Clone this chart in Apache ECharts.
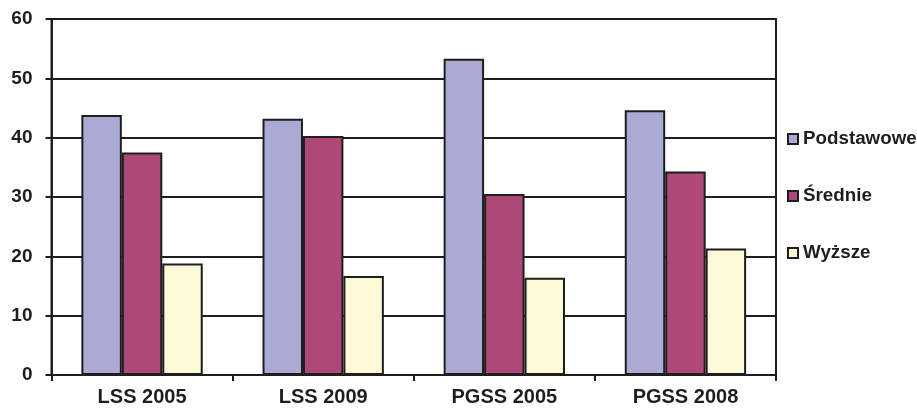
<!DOCTYPE html>
<html>
<head>
<meta charset="utf-8">
<script src="https://cdn.jsdelivr.net/npm/echarts@6/dist/echarts.min.js"></script>
<style>
  html, body { margin: 0; padding: 0; background: #fff; }
  #chart { width: 917px; height: 412px; }
</style>
</head>
<body>
<div id="chart"></div>
<script>
// Education levels across surveys (percent)
const categories = ['LSS 2005', 'LSS 2009', 'PGSS 2005', 'PGSS 2008'];
const podstawowe = [43.8, 43.2, 53.3, 44.6];
const srednie = [37.5, 40.3, 30.5, 34.3];
const wyzsze = [18.8, 16.7, 16.4, 21.3];
const seriesNames = ['Podstawowe', 'Średnie', 'Wyższe'];
const seriesColors = ['#aaaad4', '#ad4878', '#fdf9d6'];

const ink = '#1e1e1e';
const fontFamily = 'Liberation Sans, Arial, sans-serif';

const chart = echarts.init(document.getElementById('chart'), null, { renderer: 'canvas' });

const values = [podstawowe, srednie, wyzsze];
const series = values.map((data, i) => ({
  name: seriesNames[i],
  type: 'bar',
  data: data,
  barGap: '0%',
  barCategoryGap: '33%',
  itemStyle: { color: seriesColors[i], borderColor: ink, borderWidth: 2 }
}));

chart.setOption({
  animation: false,
  backgroundColor: '#ffffff',
  grid: {
    left: 51.5, right: 141, top: 19, bottom: 37,
    show: true, borderColor: ink, borderWidth: 2, backgroundColor: 'transparent'
  },
  legend: {
    orient: 'vertical',
    left: 787,
    top: 129,
    padding: 0,
    itemWidth: 10,
    itemHeight: 10,
    itemGap: 37,
    icon: 'rect',
    textStyle: { fontSize: 18.8, fontWeight: 'bold', color: ink, fontFamily: fontFamily, lineHeight: 20 },
    data: seriesNames
  },
  xAxis: {
    type: 'category',
    data: categories,
    axisLine: { lineStyle: { color: ink, width: 2 } },
    axisTick: { show: true, length: 6, lineStyle: { color: ink, width: 2 } },
    axisLabel: { fontSize: 20, fontWeight: 'bold', color: ink, fontFamily: fontFamily, margin: 12 },
    splitLine: { show: false }
  },
  yAxis: {
    type: 'value',
    min: 0, max: 60, interval: 10,
    axisLine: { show: true, lineStyle: { color: ink, width: 2 } },
    axisTick: { show: true, length: 6, lineStyle: { color: ink, width: 2 } },
    axisLabel: { fontSize: 19, fontWeight: 'bold', color: ink, fontFamily: fontFamily, margin: 19 },
    splitLine: { show: true, lineStyle: { color: ink, width: 2 } }
  },
  series: series
});
</script>
</body>
</html>
